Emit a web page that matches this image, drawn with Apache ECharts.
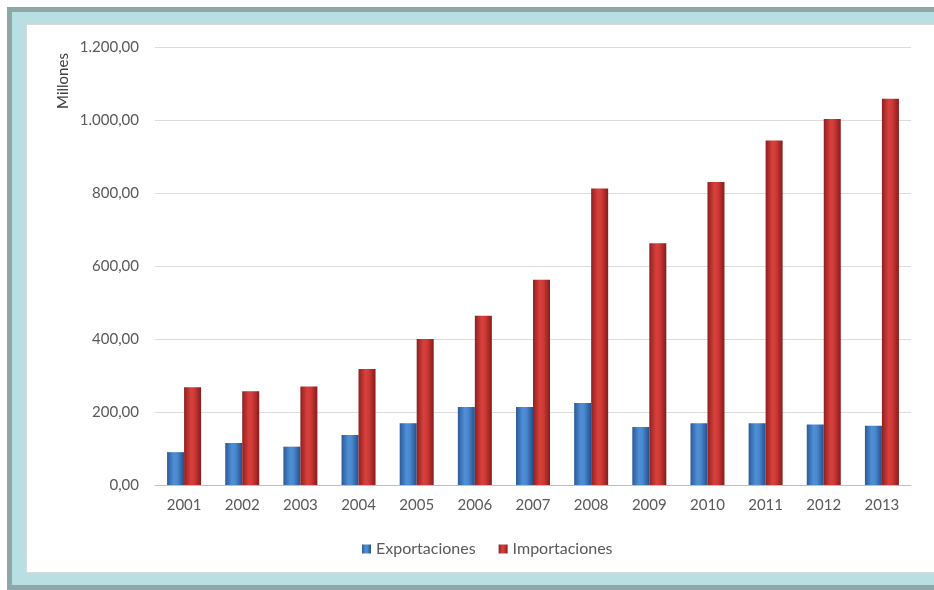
<!DOCTYPE html>
<html>
<head>
<meta charset="utf-8">
<script src="https://cdn.jsdelivr.net/npm/echarts@6/dist/echarts.min.js"></script>
<style>
  html, body { margin:0; padding:0; background:#ffffff; width:934px; height:590px; overflow:hidden; }
  #outer { position:absolute; left:7px; top:7px; width:940px; height:583px; background:#8ea7a9; }
  #band { position:absolute; left:12px; top:12px; width:940px; height:573px; background:#b8dfe2; }
  #inner { position:absolute; left:27px; top:25px; width:920px; height:547px; background:#ffffff; box-shadow: 0 0 0 1px #d8dcdc; }
  #chart { position:absolute; left:0; top:0; width:934px; height:590px; }
</style>
</head>
<body>
<div id="outer"></div>
<div id="band"></div>
<div id="inner"></div>
<div id="chart"></div>
<script>
const categories = ['2001','2002','2003','2004','2005','2006','2007','2008','2009','2010','2011','2012','2013'];
const exportaciones = [90, 115, 105, 137, 169, 214, 214, 225, 159, 169, 169, 166, 162];
const importaciones = [268, 257, 270, 318, 400, 464, 562, 812, 662, 830, 944, 1003, 1058];
const seriesNames = ['Exportaciones', 'Importaciones'];

function fmt(v) {
  const parts = v.toFixed(2).split('.');
  parts[0] = parts[0].replace(/\B(?=(\d{3})+(?!\d))/g, '.');
  return parts[0] + ',' + parts[1];
}

const blueGrad = new echarts.graphic.LinearGradient(0,0,1,0,[
  {offset:0, color:'#2c5a98'},
  {offset:0.4, color:'#4f8fd6'},
  {offset:0.6, color:'#4a88cf'},
  {offset:1, color:'#24508c'}
]);
const redGrad = new echarts.graphic.LinearGradient(0,0,1,0,[
  {offset:0, color:'#8f2020'},
  {offset:0.4, color:'#d8403c'},
  {offset:0.6, color:'#d03a36'},
  {offset:1, color:'#871c1c'}
]);

const FONT = 'Lato, "Open Sans", sans-serif';
const chart = echarts.init(document.getElementById('chart'), null, {renderer:'canvas'});
chart.setOption({
  backgroundColor: 'transparent',
  animation: false,
  textStyle: { fontFamily: FONT },
  grid: { left: 155, right: 23, top: 47, bottom: 105, containLabel: false },
  legend: {
    data: seriesNames,
    left: 357,
    top: 536,
    itemWidth: 9,
    itemHeight: 9,
    itemGap: 23,
    icon: 'rect',
    textStyle: { color: '#595959', fontSize: 16, fontFamily: FONT }
  },
  graphic: [{
    type: 'text',
    x: 63,
    y: 81,
    rotation: Math.PI / 2,
    style: {
      text: 'Millones',
      fill: '#404040',
      font: '15px Lato, "Open Sans", sans-serif',
      align: 'center',
      verticalAlign: 'middle'
    }
  }],
  xAxis: {
    type: 'category',
    data: categories,
    axisLine: { lineStyle: { color: '#bfbfbf' } },
    axisTick: { show: false },
    axisLabel: { color: '#595959', fontSize: 15, margin: 13 }
  },
  yAxis: {
    type: 'value',
    min: 0,
    max: 1200,
    interval: 200,
    axisLine: { show: false },
    axisTick: { show: false },
    splitLine: { lineStyle: { color: '#dcdcdc' } },
    axisLabel: { color: '#595959', fontSize: 15, margin: 16, formatter: fmt }
  },
  series: [
    {
      name: seriesNames[0],
      type: 'bar',
      data: exportaciones,
      barWidth: 17,
      barGap: '0%',
      itemStyle: { color: blueGrad }
    },
    {
      name: seriesNames[1],
      type: 'bar',
      data: importaciones,
      barWidth: 17,
      barGap: '0%',
      itemStyle: { color: redGrad }
    }
  ]
});
</script>
</body>
</html>
